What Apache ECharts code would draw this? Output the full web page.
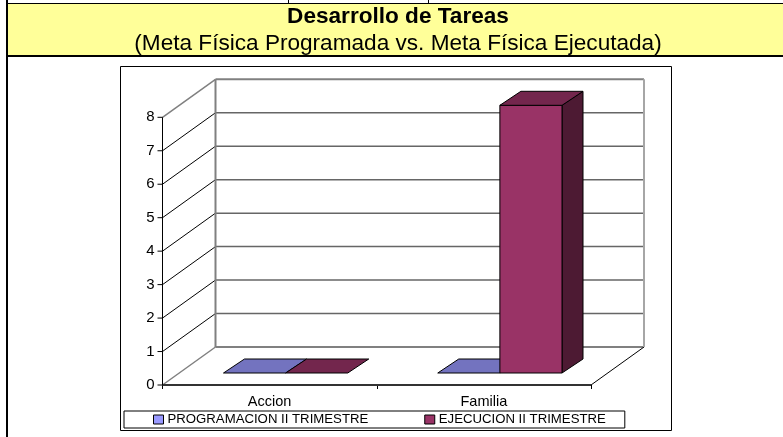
<!DOCTYPE html>
<html><head><meta charset="utf-8">
<style>html,body{margin:0;padding:0;background:#fff}#c{width:783px;height:437px}</style>
<script src="https://cdn.jsdelivr.net/npm/echarts@6/dist/echarts.min.js"></script>
</head><body><div id="c"></div>
<script>
var categories = ['Accion', 'Familia'];
var programacion = [0, 0];
var ejecucion = [0, 8];
var seriesNames = ['PROGRAMACION II TRIMESTRE', 'EJECUCION II TRIMESTRE'];
var tickValues = [0, 1, 2, 3, 4, 5, 6, 7, 8];
var titleText = 'Desarrollo de Tareas';
var subtitleText = '(Meta Física Programada vs. Meta Física Ejecutada)';

var FONT = '"Liberation Sans", Arial, sans-serif';
var WALL = [53, -38], BASE = [16, -12], DEPTH = [21, -14], BW = 0.29;

function line(a, b, color, w) {
  return {type: 'line', shape: {x1: a[0], y1: a[1], x2: b[0], y2: b[1]}, style: {stroke: color, lineWidth: w || 1}};
}
function poly(points, fill) {
  return {type: 'polygon', shape: {points: points}, style: {fill: fill, stroke: '#000', lineWidth: 1, lineJoin: 'round'}};
}
function wallRender(params, api) {
  var v = api.value(0), kids = [];
  var L = api.coord([0, v]); var half = api.size([1, 0])[0] / 2;
  var x0 = L[0] - half, x1 = L[0] + 3 * half, y = L[1];
  var p = [x0, y], q = [x0 + WALL[0], y + WALL[1]], r = [x1 + WALL[0], y + WALL[1]];
  var gray = '#808080';
  if (v === 0) {
    kids.push(line(p, q, gray, 1.5), line(q, r, gray, 2));
    kids.push(line([x1, y], r, '#000', 1));
    kids.push(line(p, [x1, y], '#333', 2));
  } else if (v === 8) {
    kids.push(line(p, q, gray, 1.5), line(q, r, gray, 2));
    var b = api.coord([0, 0])[1];
    kids.push(line(q, [q[0], b + WALL[1]], gray, 2));
    kids.push(line(r, [r[0], b + WALL[1]], '#a6a6a6', 2));
    kids.push(line(p, [x0, b], '#000', 1));
  } else {
    kids.push(line(p, q, '#000', 1), line(q, r, '#666', 1.5));
  }
  kids.push(line([x0 - 5, y], p, '#000', 1));
  return {type: 'group', children: kids};
}
function barRender(pos, front, top, side) {
  return function (params, api) {
    var c = api.coord([api.value(0), api.value(1)]);
    var b = api.coord([api.value(0), 0]);
    var w = api.size([1, 0])[0] * BW;
    var xl = c[0] + BASE[0] + pos * w, xr = xl + w;
    var yt = c[1] + BASE[1], yb = b[1] + BASE[1];
    var d = DEPTH;
    var kids = [];
    if (yb - yt > 0.5) {
      kids.push(poly([[xr, yt], [xr + d[0], yt + d[1]], [xr + d[0], yb + d[1]], [xr, yb]], side));
      kids.push(poly([[xl, yt], [xr, yt], [xr, yb], [xl, yb]], front));
    }
    kids.push(poly([[xl, yt], [xl + d[0], yt + d[1]], [xr + d[0], yt + d[1]], [xr, yt]], top));
    return {type: 'group', children: kids};
  };
}
function pairs(vals) { return vals.map(function (v, i) { return [i, v]; }); }

var chart = echarts.init(document.getElementById('c'), null, {renderer: 'canvas'});
chart.setOption({
  animation: false,
  backgroundColor: '#fff',
  title: {
    text: titleText, subtext: subtitleText, left: 398, textAlign: 'center', top: 5, itemGap: 2, padding: 0,
    textStyle: {fontFamily: FONT, fontSize: 22.6, fontWeight: 'bold', color: '#000', lineHeight: 24},
    subtextStyle: {fontFamily: FONT, fontSize: 22.6, color: '#000', lineHeight: 26}
  },
  legend: {
    left: 124, top: 411, data: seriesNames, padding: [2, 19, 2, 29], itemGap: 56, itemWidth: 10, itemHeight: 9, icon: 'rect',
    backgroundColor: '#fff', borderColor: '#000', borderWidth: 1, borderRadius: 0,
    itemStyle: {borderColor: '#000', borderWidth: 1},
    textStyle: {fontFamily: FONT, fontSize: 13.2, color: '#000', padding: [0, 0, 0, -1]}
  },
  grid: {left: 162.5, width: 428.5, top: 117.3, height: 267.7},
  xAxis: {type: 'category', data: categories, axisLine: {lineStyle: {color: '#000', width: 1}}, axisTick: {show: true, length: 4, lineStyle: {color: '#000'}},
    axisLabel: {fontFamily: FONT, fontSize: 14.5, color: '#000', margin: 9}, splitLine: {show: false}},
  yAxis: {type: 'value', min: 0, max: 8, interval: 1, axisLine: {show: false}, axisTick: {show: false},
    axisLabel: {fontFamily: FONT, fontSize: 15, color: '#000', margin: 8}, splitLine: {show: false}},
  graphic: [
    {type: 'rect', z: -10, shape: {x: 7, y: 4, width: 776, height: 51}, style: {fill: '#FFFF99'}, silent: true},
    {type: 'rect', z: -9, shape: {x: 120.5, y: 66.5, width: 551, height: 364}, style: {fill: '#fff', stroke: '#000', lineWidth: 1}, silent: true},
    {type: 'line', shape: {x1: 7, y1: 3.5, x2: 783, y2: 3.5}, style: {stroke: '#000', lineWidth: 1}},
    {type: 'line', shape: {x1: 7, y1: 56, x2: 783, y2: 56}, style: {stroke: '#000', lineWidth: 2}},
    {type: 'line', shape: {x1: 7, y1: 0, x2: 7, y2: 437}, style: {stroke: '#000', lineWidth: 2}},
    {type: 'line', shape: {x1: 288.5, y1: 0, x2: 288.5, y2: 3}, style: {stroke: '#000', lineWidth: 1}},
    {type: 'line', shape: {x1: 428.5, y1: 0, x2: 428.5, y2: 3}, style: {stroke: '#000', lineWidth: 1}}
  ],
  series: [
    {type: 'custom', name: 'wall', silent: true, data: tickValues, encode: {y: 0}, renderItem: wallRender, z: 1, legendHoverLink: false},
    {type: 'custom', name: seriesNames[0], data: pairs(programacion), encode: {x: 0, y: 1}, itemStyle: {color: '#9999FF', borderColor: '#000'},
      renderItem: barRender(-1, '#9999FF', '#7373BF', '#4D4D80'), z: 2},
    {type: 'custom', name: seriesNames[1], data: pairs(ejecucion), encode: {x: 0, y: 1}, itemStyle: {color: '#993366', borderColor: '#000'},
      renderItem: barRender(0, '#993366', '#73264D', '#4D1A33'), z: 3}
  ]
});
</script></body></html>
